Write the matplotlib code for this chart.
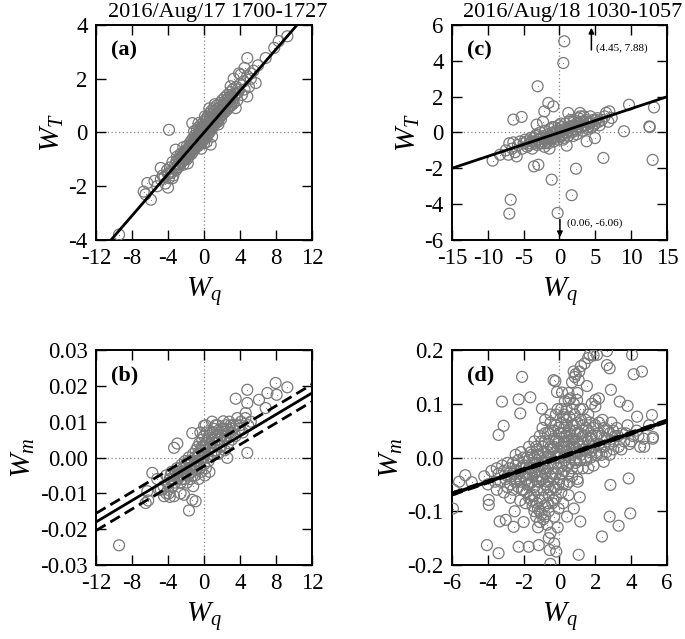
import matplotlib
matplotlib.use("Agg")
import matplotlib.pyplot as plt
import numpy as np

plt.rcParams['font.family'] = ['Liberation Serif', 'DejaVu Serif']
plt.rcParams['mathtext.fontset'] = 'custom'
plt.rcParams['mathtext.rm'] = 'Liberation Serif'
plt.rcParams['mathtext.it'] = 'Liberation Serif:italic'
plt.rcParams['mathtext.bf'] = 'Liberation Serif:bold'

# ---------------- data ----------------
titles = ["2016/Aug/17 1700-1727", "2016/Aug/18 1030-1057"]
panel_labels = ["(a)", "(b)", "(c)", "(d)"]

# panel (a): W_q vs W_T
points_a = [
    (-4.6,-1.6),(-4.3,-1.9),(-4.1,-1.4),(-3.9,-1.7),(-3.8,-1.3),(-3.6,-1.5),(-3.5,-1.1),(-3.4,-1.6),
    (-3.2,-1.2),(-3.1,-1.4),(-3.0,-0.9),(-2.9,-1.3),(-2.8,-1.0),(-2.7,-1.2),(-2.6,-0.8),(-2.5,-1.1),
    (-2.4,-0.9),(-2.3,-1.2),(-2.2,-0.7),(-2.1,-1.0),(-2.0,-0.8),(-1.9,-0.5),(-1.9,-1.0),(-1.8,-0.7),
    (-1.7,-0.9),(-1.6,-0.4),(-1.6,-0.7),(-1.5,-0.6),(-1.4,-0.8),(-1.4,-0.3),(-1.3,-0.5),(-1.2,-0.7),
    (-1.2,-0.2),(-1.1,-0.4),(-1.0,-0.6),(-1.0,-0.1),(-0.9,-0.3),(-0.9,-0.5),(-0.8,-0.2),(-0.8,0.1),
    (-0.7,-0.4),(-0.7,-0.1),(-0.6,-0.3),(-0.6,0.2),(-0.5,-0.2),(-0.5,0.0),(-0.4,-0.4),(-0.4,0.1),
    (-0.3,-0.1),(-0.3,0.3),(-0.2,-0.2),(-0.2,0.0),(-0.1,0.2),(-0.1,-0.3),(0.0,0.0),(0.0,0.4),
    (0.1,-0.1),(0.1,0.2),(0.2,0.5),(0.2,-0.2),(0.3,0.1),(0.3,0.3),(0.4,0.6),(0.4,-0.1),(0.5,0.2),
    (0.5,0.4),(0.6,0.0),(0.6,0.7),(0.7,0.3),(0.7,0.5),(0.8,0.1),(0.8,0.8),(0.9,0.4),(1.0,0.6),
    (1.0,0.2),(1.1,0.9),(1.2,0.5),(1.2,0.3),(1.3,0.7),(1.4,1.0),(1.4,0.4),(1.5,0.6),(1.6,0.9),
    (1.6,0.3),(1.7,0.7),(1.8,1.1),(1.9,0.5),(1.9,0.8),(2.0,1.2),(2.1,0.7),(2.2,0.9),(2.3,1.3),
    (2.4,0.8),(2.5,1.1),(2.6,1.4),(2.7,0.9),(2.8,1.2),(2.9,1.5),(3.0,1.0),(3.1,1.3),(3.2,1.6),
    (3.3,1.1),(3.4,1.4),(3.6,1.7),(3.7,1.2),(3.8,1.5),(4.0,1.8),(4.2,1.4),(4.4,1.9),(4.5,1.6),
    (4.8,2.1),(5.0,1.7),(5.2,2.0),(5.5,2.3),
    (-3.05,-1.05),(-2.95,-1.30),(-2.85,-1.15),(-2.75,-0.95),(-2.65,-1.20),(-2.55,-0.90),(-2.45,-1.05),
    (-2.35,-0.80),(-2.25,-1.00),(-2.15,-0.75),(-2.05,-0.95),(-1.95,-0.65),(-1.85,-0.85),(-1.75,-0.60),
    (-1.65,-0.80),(-1.55,-0.50),(-1.45,-0.70),(-1.35,-0.45),(-1.25,-0.60),(-1.15,-0.35),(-1.05,-0.55),
    (-0.95,-0.20),(-0.85,-0.45),(-0.75,-0.25),(-0.65,-0.50),(-0.55,-0.10),(-0.45,-0.30),(-0.35,0.05),
    (-0.25,-0.35),(-0.15,0.10),(-0.05,-0.15),(0.05,0.25),(0.15,-0.05),(0.25,0.15),(0.35,0.45),
    (0.45,0.05),(0.55,0.30),(0.65,0.55),(0.75,0.15),(0.85,0.40),(0.95,0.70),(1.05,0.35),(1.15,0.55),
    (1.25,0.80),(1.35,0.45),(1.45,0.70),(1.55,0.40),(1.65,0.80),(1.75,0.55),(1.85,0.95),(1.95,0.65),
    (2.05,0.90),(2.15,1.05),(2.25,0.75),(2.35,1.00),(2.45,1.20),(2.55,0.85),(2.65,1.10),(2.75,1.30),
    (2.85,1.00),(2.95,1.25),(3.05,1.40),(3.15,1.15),(3.35,1.30),(3.55,1.45),(3.75,1.60),(-3.3,-1.35),
    (-3.7,-1.45),(-4.0,-1.55),(-4.4,-1.65),(-4.8,-1.75),(-0.6,0.35),(-1.1,0.05),(0.3,-0.35),
    (0.9,-0.15),(1.2,1.05),(-1.8,-1.15),(-2.3,-0.55),(0.0,-0.4),(0.1,0.6),(-0.3,-0.6),(0.6,0.9),
    (9.26,3.58),(8.3,3.4),(7.8,3.15),(6.85,2.77),(4.81,2.77),(4.07,2.15),(5.74,1.84),(4.81,1.34),
    (3.52,0.91),(2.96,1.72),(-3.89,0.10),(-1.30,0.35),(-4.81,-1.32),(-3.15,-0.64),(-6.3,-1.88),
    (-6.7,-2.2),(-6.5,-2.3),(-5.9,-2.5),(-4.0,-2.05),(-3.5,-1.7),(-9.44,-3.8),(0.74,-0.45),
    (-5.5,-1.8),(-5.2,-2.0),(3.3,2.0),(3.9,2.2),(4.5,2.4),(5.2,2.2),(6.0,2.5),
]
fit_a = (0.387, 0.0)          # slope, intercept

# panel (b): W_q vs W_m
points_b = [
    (-4.5,-0.008),(-4.2,-0.005),(-4.0,-0.009),(-3.8,-0.006),(-3.6,-0.004),(-3.5,-0.008),(-3.3,-0.005),
    (-3.2,-0.007),(-3.0,-0.003),(-2.9,-0.006),(-2.8,-0.004),(-2.6,-0.007),(-2.5,-0.002),(-2.4,-0.005),
    (-2.3,-0.003),(-2.2,-0.006),(-2.1,-0.001),(-2.0,-0.004),(-1.9,-0.002),(-1.8,-0.005),(-1.7,0.000),
    (-1.6,-0.003),(-1.5,-0.006),(-1.4,-0.001),(-1.3,-0.004),(-1.2,0.001),(-1.1,-0.002),(-1.0,-0.005),
    (-0.9,0.002),(-0.9,-0.001),(-0.8,-0.003),(-0.7,0.003),(-0.7,0.000),(-0.6,-0.002),(-0.5,0.004),
    (-0.5,0.001),(-0.4,-0.001),(-0.3,0.002),(-0.3,-0.004),(-0.2,0.005),(-0.2,0.000),(-0.1,0.003),
    (0.0,-0.002),(0.0,0.006),(0.1,0.001),(0.2,0.004),(0.2,-0.003),(0.3,0.007),(0.4,0.002),(0.5,0.005),
    (0.5,-0.001),(0.6,0.003),(0.7,0.007),(0.8,0.001),(0.9,0.005),(1.0,0.003),(1.1,0.008),(1.2,0.002),
    (1.3,0.006),(1.4,0.004),(1.5,0.009),(1.6,0.001),(1.7,0.005),(1.8,0.007),(1.9,0.003),(2.0,0.008),
    (2.2,0.005),(2.3,0.002),(2.4,0.009),(2.5,0.006),(2.7,0.004),(2.8,0.010),(3.0,0.007),(3.1,0.005),
    (3.3,0.009),(3.5,0.006),(3.7,0.011),(3.9,0.008),(4.1,0.010),(4.3,0.007),(4.6,0.011),(4.9,0.009),
    (5.2,0.010),
    (-3.9,-0.007),(-3.7,-0.005),(-3.4,-0.006),(-3.1,-0.004),(-2.85,-0.005),(-2.65,-0.003),(-2.45,-0.006),
    (-2.25,-0.004),(-2.05,-0.002),(-1.85,-0.004),(-1.65,-0.001),(-1.45,-0.003),(-1.25,-0.005),
    (-1.05,0.000),(-0.85,-0.002),(-0.65,0.001),(-0.45,-0.003),(-0.25,0.003),(-0.05,0.000),(0.15,0.003),
    (0.35,0.000),(0.55,0.006),(0.75,0.003),(0.95,0.007),(1.15,0.004),(1.35,0.002),(1.55,0.006),
    (1.75,0.003),(1.95,0.006),(2.15,0.008),(2.35,0.006),(2.55,0.008),(2.75,0.007),(2.95,0.009),
    (3.2,0.008),(3.6,0.009),(4.0,0.009),(-1.9,-0.007),(-1.2,-0.008),(-0.6,-0.006),(0.1,-0.005),
    (0.6,-0.004),(1.3,0.009),(-0.4,0.007),(0.9,0.010),(-2.6,-0.010),(-3.8,-0.011),(-4.2,-0.010),
    (-5.0,-0.009),
    (-9.44,-0.0245),(7.96,0.0208),(9.26,0.0196),(7.04,0.018),(6.11,0.0161),(4.81,0.0189),(3.52,0.0164),
    (8.07,0.0175),(4.81,0.0152),(6.85,0.0138),(4.63,0.0124),(4.81,0.0013),(-1.3,0.0068),(-2.96,0.0039),
    (0.19,0.009),(0.0,0.0088),(2.15,0.0101),(-5.74,-0.0043),(-6.3,-0.0094),(-6.48,-0.0127),(-6.2,-0.0120),
    (-4.44,-0.0108),(-3.33,-0.0108),(-2.22,-0.0104),(-1.67,-0.0148),(-1.3,-0.0118),(-0.93,-0.0122),
    (-3.33,0.0027),(2.59,-0.0001),(-5.2,-0.0060),(-4.8,-0.0090),(-3.9,-0.0100),
]
fit_b = (0.0015, 0.0)         # slope, intercept
band_b = 0.0024               # half-width of dashed band

# panel (c): W_q vs W_T
points_c = [
    (-7.5,-1.0),(-7.0,-0.6),(-6.6,-0.9),(-6.2,-1.1),(-5.8,-0.7),(-5.5,-0.5),(-5.2,-0.9),(-4.8,-0.4),
    (-4.5,-0.8),(-4.2,-0.6),(-4.0,-0.3),(-3.8,-0.9),(-3.5,-0.5),(-3.3,-0.2),(-3.1,-0.7),(-2.9,-0.4),
    (-2.7,0.0),(-2.5,-0.6),(-2.3,-0.3),(-2.1,-0.8),(-2.0,0.1),(-1.8,-0.4),(-1.6,-0.1),(-1.5,-0.6),
    (-1.3,0.2),(-1.1,-0.3),(-1.0,0.0),(-0.8,-0.5),(-0.7,0.3),(-0.5,-0.2),(-0.4,0.1),(-0.2,-0.4),
    (-0.1,0.4),(0.0,0.0),(0.2,-0.2),(0.3,0.3),(0.5,0.1),(0.6,-0.3),(0.8,0.5),(0.9,0.0),(1.1,0.2),
    (1.2,-0.2),(1.4,0.6),(1.5,0.3),(1.7,0.0),(1.9,0.4),(2.0,0.7),(2.2,0.2),(2.4,-0.1),(2.5,0.5),
    (2.7,0.8),(2.9,0.3),(3.0,0.6),(3.2,0.1),(3.4,0.9),(3.5,0.4),(3.7,0.7),(3.9,0.2),(4.1,0.5),
    (4.3,0.9),(4.5,0.3),(4.7,0.7),(5.0,0.5),(5.3,0.8),(5.6,0.4),(5.9,0.7),(6.3,0.9),(6.8,0.6),
    (-5.0,-0.6),(-4.6,-0.5),(-4.3,-0.7),(-3.9,-0.5),(-3.6,-0.3),(-3.4,-0.6),(-3.0,-0.4),(-2.8,-0.6),
    (-2.6,-0.3),(-2.4,-0.5),(-2.2,-0.2),(-1.9,-0.3),(-1.7,-0.5),(-1.4,-0.2),(-1.2,-0.4),(-0.9,-0.1),
    (-0.6,-0.3),(-0.3,0.0),(-0.1,-0.2),(0.1,0.1),(0.4,-0.1),(0.7,0.2),(1.0,0.0),(1.3,0.3),(1.6,0.1),
    (1.8,0.3),(2.1,0.4),(2.3,0.1),(2.6,0.3),(2.8,0.5),(3.1,0.3),(3.3,0.6),(3.6,0.4),(3.8,0.6),
    (4.0,0.3),(4.4,0.6),(4.8,0.4),(5.1,0.7),(5.5,0.6),(-3.2,-0.1),(-1.0,0.3),(0.2,0.5),(1.5,0.7),
    (2.9,0.9),(-2.0,-0.6),(0.5,-0.4),(1.9,-0.2),
    (0.67,5.09),(0.53,3.88),(-3.05,2.58),(-1.56,1.65),(-0.86,1.46),(-2.12,1.18),(-6.44,0.72),
    (-5.28,0.87),(-3.19,0.44),(-2.3,0.6),(9.7,1.55),(13.19,1.40),(12.53,0.34),(12.6,0.30),(9.0,0.07),
    (6.95,1.18),(7.28,0.81),(6.5,1.1),(2.86,1.09),(1.23,1.09),(13.0,-1.53),(6.12,-1.42),(2.3,-2.02),
    (-9.33,-1.57),(-8.3,-1.24),(-7.14,-1.24),(-5.98,-1.33),(-6.44,-0.55),(-3.56,-1.89),(-2.95,-1.80),
    (-1.09,-2.63),(1.7,-3.5),(-6.81,-3.75),(-7.0,-4.53),(-0.26,-4.49),(1.0,-0.73),(3.79,-0.49),
    (4.95,-0.31),(-1.4,-0.9),
]
fit_c = (0.133, 0.0)
# points beyond the axis range, shown with arrows and their values
off_c = [(4.45, 7.88, "(4.45, 7.88)"), (0.06, -6.06, "(0.06, -6.06)")]

# panel (d): W_q vs W_m
points_d = [
    (-4.2,-0.035),(-4.0,-0.050),(-3.8,-0.025),(-3.6,-0.045),(-3.4,-0.030),(-3.2,-0.015),(-3.0,-0.040),
    (-2.9,-0.055),(-2.8,-0.020),(-2.7,-0.035),(-2.6,-0.010),(-2.5,-0.045),(-2.4,-0.025),(-2.3,-0.005),
    (-2.2,-0.040),(-2.1,-0.060),(-2.0,-0.015),(-1.9,-0.030),(-1.8,0.000),(-1.8,-0.050),(-1.7,-0.020),
    (-1.6,-0.070),(-1.6,0.010),(-1.5,-0.035),(-1.4,-0.010),(-1.4,-0.055),(-1.3,0.020),(-1.3,-0.025),
    (-1.2,-0.045),(-1.2,0.005),(-1.1,-0.080),(-1.1,-0.015),(-1.0,0.030),(-1.0,-0.035),(-0.9,-0.060),
    (-0.9,0.010),(-0.8,-0.020),(-0.8,0.045),(-0.7,-0.045),(-0.7,0.000),(-0.6,0.025),(-0.6,-0.070),
    (-0.5,-0.010),(-0.5,0.050),(-0.4,-0.030),(-0.4,0.015),(-0.3,-0.055),(-0.3,0.035),(-0.2,0.000),
    (-0.2,0.060),(-0.1,-0.020),(-0.1,0.025),(0.0,-0.040),(0.0,0.045),(0.0,0.005),(0.1,-0.010),
    (0.1,0.065),(0.2,0.020),(0.2,-0.050),(0.3,0.040),(0.3,-0.005),(0.4,0.010),(0.4,0.070),(0.5,-0.030),
    (0.5,0.030),(0.6,0.050),(0.6,0.000),(0.7,-0.020),(0.7,0.020),(0.8,0.060),(0.8,0.035),(0.9,-0.010),
    (0.9,0.010),(1.0,0.045),(1.0,-0.040),(1.1,0.025),(1.2,0.070),(1.2,0.005),(1.3,0.040),(1.3,-0.020),
    (1.4,0.015),(1.5,0.055),(1.5,-0.005),(1.6,0.030),(1.7,0.065),(1.7,0.010),(1.8,0.040),(1.9,-0.015),
    (2.0,0.025),(2.0,0.060),(2.1,0.005),(2.2,0.045),(2.3,0.020),(2.4,0.070),(2.5,0.035),(2.6,0.010),
    (2.7,0.050),(2.8,0.025),(2.9,0.065),(3.0,0.015),(3.1,0.040),(3.2,0.055),(3.3,0.020),(3.5,0.045),
    (3.6,0.030),(3.8,0.060),(3.9,0.025),(4.1,0.040),(4.3,0.050),(4.5,0.020),(4.7,0.035),(5.0,0.060),
    (5.2,0.035),
    (-3.5,-0.060),(-3.5,-0.020),(-3.3,-0.045),(-3.1,-0.025),(-3.1,-0.065),(-2.9,-0.035),(-2.9,-0.010),
    (-2.75,-0.050),(-2.75,-0.075),(-2.6,-0.030),(-2.6,-0.060),(-2.45,-0.015),(-2.45,-0.040),
    (-2.45,0.005),(-2.3,-0.055),(-2.3,-0.030),(-2.15,-0.020),(-2.15,-0.045),(-2.15,0.010),
    (-2.0,-0.035),(-2.0,-0.060),(-2.0,0.000),(-1.85,-0.015),(-1.85,-0.040),(-1.85,-0.065),
    (-1.7,-0.005),(-1.7,-0.030),(-1.7,-0.050),(-1.7,0.020),(-1.55,-0.020),(-1.55,-0.045),
    (-1.55,-0.080),(-1.55,0.005),(-1.4,-0.030),(-1.4,0.000),(-1.4,-0.070),(-1.4,0.030),
    (-1.25,-0.010),(-1.25,-0.035),(-1.25,-0.060),(-1.25,0.015),(-1.25,-0.085),(-1.1,-0.045),
    (-1.1,0.005),(-1.1,-0.025),(-1.1,0.040),(-1.1,-0.100),(-0.95,-0.015),(-0.95,-0.040),(-0.95,0.020),
    (-0.95,-0.075),(-0.95,0.055),(-0.8,-0.005),(-0.8,-0.050),(-0.8,0.030),(-0.8,-0.030),(-0.8,-0.110),
    (-0.65,-0.020),(-0.65,0.010),(-0.65,0.045),(-0.65,-0.055),(-0.65,-0.085),(-0.5,-0.035),
    (-0.5,0.020),(-0.5,0.000),(-0.5,0.065),(-0.5,-0.060),(-0.35,-0.010),(-0.35,0.050),(-0.35,-0.040),
    (-0.35,0.020),(-0.35,-0.080),(-0.2,-0.030),(-0.2,0.030),(-0.2,0.010),(-0.2,-0.060),(-0.2,0.080),
    (-0.05,0.000),(-0.05,0.055),(-0.05,-0.050),(-0.05,0.030),(-0.05,-0.095),(0.1,0.020),(0.1,-0.030),
    (0.1,0.045),(0.1,0.090),(0.1,-0.065),(0.25,0.000),(0.25,0.055),(0.25,-0.025),(0.25,0.030),
    (0.25,0.080),(0.4,0.040),(0.4,-0.015),(0.4,0.025),(0.4,-0.050),(0.4,0.060),(0.55,0.015),
    (0.55,0.045),(0.55,-0.010),(0.55,0.075),(0.55,-0.045),(0.7,0.035),(0.7,0.005),(0.7,0.060),
    (0.7,-0.035),(0.7,0.090),(0.85,0.020),(0.85,0.050),(0.85,-0.005),(0.85,0.080),(1.0,0.010),
    (1.0,0.030),(1.0,0.065),(1.0,-0.020),(1.15,0.045),(1.15,-0.005),(1.15,0.020),(1.15,0.090),
    (1.3,0.015),(1.3,0.060),(1.3,0.030),(1.45,0.040),(1.45,0.000),(1.45,0.070),(1.6,0.015),
    (1.6,0.050),(1.6,-0.020),(1.75,0.035),(1.75,0.000),(1.9,0.020),(1.9,0.055),(2.05,0.040),
    (2.05,0.010),(2.2,0.025),(2.2,0.065),(2.35,0.040),(2.35,0.005),(2.5,0.055),(2.5,0.020),
    (2.65,0.035),(2.8,0.045),(2.8,0.005),(3.0,0.030),(3.0,0.050),(3.25,0.040),(3.45,0.015),
    (3.7,0.045),(4.0,0.030),(4.4,0.040),
    (-1.5,-0.090),(-1.4,-0.100),(-1.3,-0.110),(-1.2,-0.095),(-1.1,-0.120),(-1.0,-0.105),(-1.2,-0.130),
    (-0.9,-0.115),(-0.8,-0.090),(-0.7,-0.125),(-0.6,-0.100),(-0.5,-0.140),(-0.4,-0.085),(-0.3,-0.110),
    (-0.2,-0.075),(-0.6,-0.150),(-0.3,-0.160),(-0.1,-0.130),(0.2,-0.085),(0.5,-0.070),(0.8,-0.095),
    (-2.2,-0.080),(-2.5,-0.100),(-1.9,-0.085),(-1.7,-0.075),(-2.0,-0.120),
    (0.4,0.090),(0.6,0.110),(0.8,0.100),(1.0,0.120),(0.7,0.140),(0.9,0.155),(1.1,0.160),(0.5,0.120),
    (0.3,0.105),(-0.1,0.090),(0.2,0.075),(1.3,0.090),(1.6,0.080),(1.8,0.100),(2.0,0.095),(2.2,0.110),
    (1.4,0.175),(1.6,0.185),(1.9,0.190),(1.2,0.170),(-0.5,0.080),(-0.8,0.070),
    (-2.09,0.150),(-3.21,0.104),(-2.28,0.108),(-1.63,0.112),(-0.98,0.091),(-2.19,0.082),(-3.12,0.059),
    (-3.4,0.042),(-0.33,0.144),(-0.14,0.122),(-5.9,-0.060),(-5.95,-0.095),(-5.26,-0.033),(-3.95,-0.079),
    (-3.95,-0.088),(-3.34,-0.119),(-2.56,-0.129),(-3.0,-0.116),(-4.05,-0.163),(-3.4,-0.178),
    (-2.28,-0.166),(-1.72,-0.166),(-1.16,-0.163),(-0.55,-0.172),(-0.51,-0.198),(-0.18,-0.175),
    (1.07,-0.181),(2.37,-0.147),(2.8,-0.110),(3.3,-0.127),(3.95,-0.104),(3.86,-0.039),(2.84,-0.051),
    (2.47,-0.008),(1.13,-0.074),(1.02,-0.045),(1.16,-0.119),(0.42,-0.110),
    (2.65,0.198),(2.09,0.191),(1.68,0.191),(4.05,0.191),(2.65,0.172),(2.8,0.166),(4.14,0.155),
    (4.6,0.160),(0.79,0.160),(0.85,0.150),(1.07,0.144),(1.53,0.133),(0.51,0.107),(0.98,0.107),
    (2.87,0.126),(2.0,0.107),(3.36,0.104),(3.8,0.096),(4.33,0.076),(5.16,0.079),(5.22,0.038),
    (4.73,0.020),(-0.23,0.142),(0.14,0.121),(-4.9,-0.046),(-5.6,-0.045),
]
fit_d = (0.0113, 0.0)
band_d = 0.002

# ---------------- drawing ----------------
fig = plt.figure(figsize=(6.85, 6.39), dpi=100)
W, H = 685, 639

def make_ax(l, t, r, b):
    return fig.add_axes([l / W, 1 - b / H, (r - l) / W, (b - t) / H])

ax_a = make_ax(96, 25, 312, 240)
ax_c = make_ax(452, 25, 667, 240)
ax_b = make_ax(96, 350, 312, 565)
ax_d = make_ax(452, 350, 667, 565)

circ_col = '#7a7a7a'

def scatter(ax, pts):
    x = np.array([p[0] for p in pts])
    y = np.array([p[1] for p in pts])
    ax.scatter(x, y, s=62, facecolors='none', edgecolors=circ_col, linewidths=0.9, zorder=3)
    ax.scatter(x, y, s=0.6, color=circ_col, zorder=3, linewidths=0)

def style(ax, xlim, ylim, xticks, yticks, xtl, ytl, ylabel, label):
    ax.set_xlim(*xlim)
    ax.set_ylim(*ylim)
    ax.set_xticks(xticks)
    ax.set_yticks(yticks)
    ax.set_xticklabels(xtl)
    ax.set_yticklabels(ytl)
    ax.tick_params(direction='in', top=True, right=True, length=7, width=1.0,
                   labelsize=16.5, pad=6)
    for sp in ax.spines.values():
        sp.set_linewidth(1.4)
    ax.axhline(0, color='#888888', lw=0.9, ls=(0, (1, 2)), zorder=1)
    ax.axvline(0, color='#888888', lw=0.9, ls=(0, (1, 2)), zorder=1)
    ax.set_xlabel(r'$W_q$', fontsize=21, labelpad=4)
    ax.set_ylabel(ylabel, fontsize=21, labelpad=2)
    ax.text(0.07, 0.93, label, transform=ax.transAxes, fontsize=16, fontweight='bold',
            va='top', ha='left', zorder=6)

# (a)
scatter(ax_a, points_a)
xl = np.array([-12, 12])
ax_a.plot(xl, fit_a[0] * xl + fit_a[1], color='k', lw=2, zorder=5)
style(ax_a, (-12, 12), (-4, 4), [-12, -8, -4, 0, 4, 8, 12], [-4, -2, 0, 2, 4],
      ['-12', '-8', '-4', '0', '4', '8', '12'], ['-4', '-2', '0', '2', '4'], r'$W_T$', panel_labels[0])

# (b)
scatter(ax_b, points_b)
ax_b.plot(xl, fit_b[0] * xl + fit_b[1], color='k', lw=2, zorder=5)
ax_b.plot(xl, fit_b[0] * xl + fit_b[1] + band_b, color='k', lw=2, ls=(0, (4, 2)), zorder=5)
ax_b.plot(xl, fit_b[0] * xl + fit_b[1] - band_b, color='k', lw=2, ls=(0, (4, 2)), zorder=5)
style(ax_b, (-12, 12), (-0.03, 0.03), [-12, -8, -4, 0, 4, 8, 12],
      [-0.03, -0.02, -0.01, 0, 0.01, 0.02, 0.03],
      ['-12', '-8', '-4', '0', '4', '8', '12'],
      ['-0.03', '-0.02', '-0.01', '0.00', '0.01', '0.02', '0.03'], r'$W_m$', panel_labels[1])

# (c)
scatter(ax_c, points_c)
xc = np.array([-15, 15])
ax_c.plot(xc, fit_c[0] * xc + fit_c[1], color='k', lw=2, zorder=5)
style(ax_c, (-15, 15), (-6, 6), [-15, -10, -5, 0, 5, 10, 15], [-6, -4, -2, 0, 2, 4, 6],
      ['-15', '-10', '-5', '0', '5', '10', '15'], ['-6', '-4', '-2', '0', '2', '4', '6'],
      r'$W_T$', panel_labels[2])
x0, y0, t0 = off_c[0]
ax_c.annotate('', xy=(x0, 6), xytext=(x0, 4.45),
              arrowprops=dict(arrowstyle='-|>', color='k', lw=1.1, mutation_scale=8), zorder=6)
ax_c.text(x0 + 0.7, 4.72, t0, fontsize=8, va='center', ha='left')
x1, y1, t1 = off_c[1]
ax_c.annotate('', xy=(x1, -6), xytext=(x1, -4.7),
              arrowprops=dict(arrowstyle='-|>', color='k', lw=1.1, mutation_scale=8), zorder=6)
ax_c.text(x1 + 1.0, -5.05, t1, fontsize=8, va='center', ha='left')

# (d)
scatter(ax_d, points_d)
xd = np.array([-6, 6])
ax_d.plot(xd, fit_d[0] * xd + fit_d[1], color='k', lw=2.6, zorder=5)
ax_d.plot(xd, fit_d[0] * xd + fit_d[1] + band_d, color='k', lw=2.0, ls=(0, (4, 2)), zorder=5)
ax_d.plot(xd, fit_d[0] * xd + fit_d[1] - band_d, color='k', lw=2.0, ls=(0, (4, 2)), zorder=5)
style(ax_d, (-6, 6), (-0.2, 0.2), [-6, -4, -2, 0, 2, 4, 6], [-0.2, -0.1, 0, 0.1, 0.2],
      ['-6', '-4', '-2', '0', '2', '4', '6'], ['-0.2', '-0.1', '0.0', '0.1', '0.2'],
      r'$W_m$', panel_labels[3])

# column titles
fig.text(218 / W, 1 - 12 / H, titles[0], fontsize=16, ha='center', va='center')
fig.text(573 / W, 1 - 12 / H, titles[1], fontsize=16, ha='center', va='center')

fig.savefig('out.png', dpi=100)
